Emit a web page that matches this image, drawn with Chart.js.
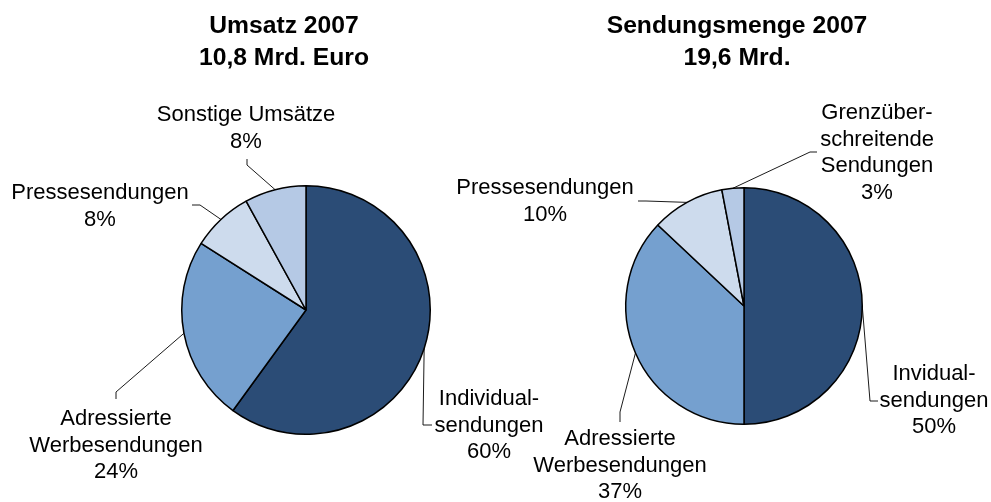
<!DOCTYPE html>
<html>
<head>
<meta charset="utf-8">
<script src="https://cdn.jsdelivr.net/npm/chart.js@4.4.0/dist/chart.umd.min.js"></script>
<style>
  html, body { margin: 0; padding: 0; background: #fff; }
  #wrap { position: relative; width: 991px; height: 502px; }
  canvas { position: absolute; left: 0; top: 0; }
</style>
</head>
<body>
<div id="wrap">
  <canvas id="umsatz" width="991" height="502"></canvas>
  <canvas id="menge" width="991" height="502"></canvas>
</div>
<script>
// data
var umsatzTitle = ["Umsatz 2007", "10,8 Mrd. Euro"];
var umsatzLabels = [["Individual-", "sendungen"], ["Adressierte", "Werbesendungen"], ["Pressesendungen"], ["Sonstige Umsätze"]];
var umsatzValues = [60, 24, 8, 8];

var mengeTitle = ["Sendungsmenge 2007", "19,6 Mrd."];
var mengeLabels = [["Invidual-", "sendungen"], ["Adressierte", "Werbesendungen"], ["Pressesendungen"], ["Grenzüber-", "schreitende", "Sendungen"]];
var mengeValues = [50, 37, 10, 3];

var sliceColors = ["#2B4C76", "#75A0CF", "#CDDBED", "#B5C9E5"];

// label placement relative to pie centre: text centre/first baseline, elbow, line end
var umsatzLayout = {
	title: {dx: -22, y: 33},
	labels: [
		{tx: 183, ty: 95, elbow: [117, 115], end: [126, 115]},
		{tx: -190, ty: 115, elbow: [-190, 82], end: [-190, 89]},
		{tx: -206, ty: -111, elbow: [-106, -105], end: [-114, -105]},
		{tx: -60, ty: -189, elbow: [-59, -145], end: [-59, -151]}
	]
};
var mengeLayout = {
	title: {dx: -7, y: 33},
	labels: [
		{tx: 190, ty: 74, elbow: [126, 95], end: [134, 95]},
		{tx: -124, ty: 139, elbow: [-124, 106], end: [-124, 116]},
		{tx: -199, ty: -112, elbow: [-98, -105], end: [-106, -105]},
		{tx: 133, ty: -187, elbow: [66, -154], end: [73, -154]}
	]
};

var LABEL_FONT = '22px "Liberation Sans", Arial, sans-serif';
var TITLE_FONT = 'bold 24.7px "Liberation Sans", Arial, sans-serif';
var LINE_H = 26.5;

var pieLabels = {
	id: 'pieLabels',
	afterDatasetsDraw: function (chart, args, opts) {
		var ctx = chart.ctx;
		var meta = chart.getDatasetMeta(0);
		var data = chart.data.datasets[0].data;
		var total = data.reduce(function (a, b) { return a + b; }, 0);
		var cx = meta.data[0].x, cy = meta.data[0].y;
		ctx.save();

		// title
		ctx.fillStyle = '#000';
		ctx.font = TITLE_FONT;
		ctx.textAlign = 'center';
		ctx.textBaseline = 'alphabetic';
		opts.title.forEach(function (t, i) {
			ctx.fillText(t, cx + opts.layout.title.dx, opts.layout.title.y + i * 31.5);
		});

		meta.data.forEach(function (arc, i) {
			var p = arc.getProps(['startAngle', 'endAngle', 'outerRadius'], true);
			var mid = (p.startAngle + p.endAngle) / 2;
			var sx = cx + Math.cos(mid) * p.outerRadius;
			var sy = cy + Math.sin(mid) * p.outerRadius;
			var lay = opts.layout.labels[i];

			ctx.strokeStyle = '#000';
			ctx.lineWidth = 0.9;
			ctx.beginPath();
			ctx.moveTo(sx, sy);
			ctx.lineTo(cx + lay.elbow[0], cy + lay.elbow[1]);
			ctx.lineTo(cx + lay.end[0], cy + lay.end[1]);
			ctx.stroke();

			var lines = chart.data.labels[i].concat([Math.round(data[i] / total * 100) + '%']);
			ctx.font = LABEL_FONT;
			ctx.textAlign = 'center';
			lines.forEach(function (l, j) {
				ctx.fillText(l, cx + lay.tx, cy + lay.ty + j * LINE_H);
			});
		});
		ctx.restore();
	}
};

function makePie(id, labels, values, title, layout, pad) {
	return new Chart(document.getElementById(id).getContext('2d'), {
		type: 'pie',
		data: {
			labels: labels,
			datasets: [{
				data: values,
				backgroundColor: sliceColors,
				borderColor: '#000',
				borderWidth: 1.5
			}]
		},
		options: {
			responsive: false,
			animation: false,
			layout: { padding: pad },
			plugins: {
				legend: { display: false },
				tooltip: { enabled: false },
				pieLabels: { title: title, layout: layout }
			}
		},
		plugins: [pieLabels]
	});
}

makePie('umsatz', umsatzLabels, umsatzValues, umsatzTitle, umsatzLayout,
	{left: 181, right: 560, top: 185, bottom: 67});
makePie('menge', mengeLabels, mengeValues, mengeTitle, mengeLayout,
	{left: 625, right: 128, top: 187, bottom: 77});
</script>
</body>
</html>
